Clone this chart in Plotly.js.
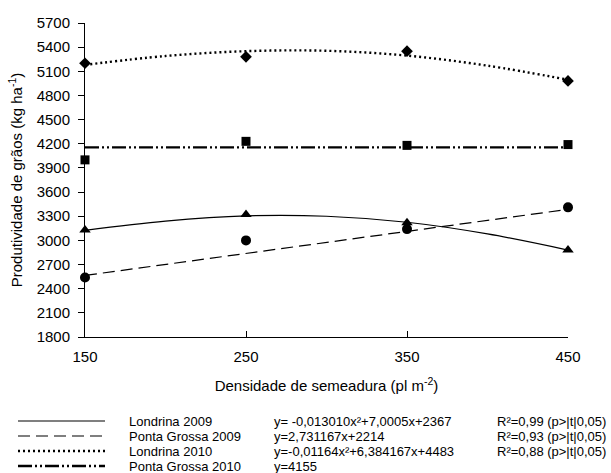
<!DOCTYPE html>
<html><head><meta charset="utf-8">
<script src="https://cdn.plot.ly/plotly-3.0.1.min.js"></script>
<style>html,body{margin:0;padding:0;background:#fff}#c{width:611px;height:473px}</style>
</head><body><div id="c"></div>
<script>
// observed densities
const densities = [150, 250, 350, 450];
// observed yields (kg/ha)
const londrina2009 = [3130, 3320, 3220, 2880];
const pontaGrossa2009 = [2540, 3000, 3140, 3410];
const londrina2010 = [5200, 5280, 5350, 4980];
const pontaGrossa2010 = [4000, 4230, 4180, 4190];
// fitted curves
const fitX = [150, 200, 250, 300, 350, 400, 450];
const fitLondrina2009 = [3125, 3240, 3305, 3300, 3225, 3080, 2880];
const fitLondrina2010 = [5180, 5290, 5350, 5355, 5295, 5170, 4995];
const fitLineX = [150, 450];
const fitPontaGrossa2009 = [2565, 3385];
const fitPontaGrossa2010 = [4155, 4155];
// legend texts
const seriesNames = ["Londrina 2009", "Ponta Grossa 2009", "Londrina 2010", "Ponta Grossa 2010"];
const equations = ["y= -0,013010x²+7,0005x+2367", "y=2,731167x+2214", "y=-0,01164x²+6,384167x+4483", "y=4155"];
const r2Texts = ["R²=0,99 (p>|t|0,05)", "R²=0,93 (p>|t|0,05)", "R²=0,88 (p>|t|0,05)", ""];
const xTicks = [150, 250, 350, 450];
const yTicks = [1800, 2100, 2400, 2700, 3000, 3300, 3600, 3900, 4200, 4500, 4800, 5100, 5400, 5700];

const W = 611, H = 473;
const L = 85, R = 568, T = 23, B = 337;
const px2x = p => (p - L) / (R - L);
const px2y = p => (B - p) / (B - T);

const dashes = ["solid", "12px,6px", "2px,3px", "14px,3px,2px,3px,2px,3px"];
const widths = [1.2, 1.2, 2.4, 2.4];
const symbols = ["triangle-up", "circle", "diamond", "square"];
const FONT = "Liberation Sans, Arial, sans-serif";

const traces = [
  {x: fitX, y: fitLondrina2009, mode: "lines", line: {color: "#000", width: widths[0], dash: dashes[0], shape: "spline"}},
  {x: fitLineX, y: fitPontaGrossa2009, mode: "lines", line: {color: "#000", width: widths[1], dash: dashes[1]}},
  {x: fitX, y: fitLondrina2010, mode: "lines", line: {color: "#000", width: widths[2], dash: dashes[2], shape: "spline"}},
  {x: fitLineX, y: fitPontaGrossa2010, mode: "lines", line: {color: "#000", width: widths[3], dash: dashes[3]}},
  {x: densities, y: londrina2009, mode: "markers", marker: {symbol: symbols[0], size: 10, color: "#000"}},
  {x: densities, y: pontaGrossa2009, mode: "markers", marker: {symbol: symbols[1], size: 10, color: "#000"}},
  {x: densities, y: londrina2010, mode: "markers", marker: {symbol: symbols[2], size: 9, color: "#000"}},
  {x: densities, y: pontaGrossa2010, mode: "markers", marker: {symbol: symbols[3], size: 9, color: "#000"}}
].map(t => Object.assign(t, {cliponaxis: false, showlegend: false, hoverinfo: "skip"}));

const rowsY = [421, 436, 451, 466];
const shapes = [], annotations = [];
rowsY.forEach((py, i) => {
  shapes.push({type: "line", xref: "paper", yref: "paper", x0: px2x(18), x1: px2x(105), y0: px2y(py), y1: px2y(py),
    line: {color: "#000", width: widths[i], dash: dashes[i]}});
  const f = {family: FONT, size: 13, color: "#000"};
  const common = {xref: "paper", yref: "paper", y: px2y(py), showarrow: false, yanchor: "middle", font: f, borderpad: 0};
  annotations.push(Object.assign({x: px2x(128), xanchor: "left", text: seriesNames[i]}, common));
  annotations.push(Object.assign({x: px2x(273), xanchor: "left", text: equations[i]}, common));
  if (r2Texts[i]) annotations.push(Object.assign({x: px2x(607), xanchor: "right", text: r2Texts[i]}, common));
});

const layout = {
  width: W, height: H,
  margin: {l: L, r: W - R, t: T, b: H - B},
  paper_bgcolor: "#fff", plot_bgcolor: "#fff",
  font: {family: FONT, size: 15, color: "#000"},
  xaxis: {range: [150, 450], tickvals: xTicks, ticks: "inside", ticklen: 6, tickcolor: "#000", showline: true, linecolor: "#000", linewidth: 1,
    showgrid: false, zeroline: false, tickfont: {size: 15}, ticklabelstandoff: 6,
    title: {text: "Densidade de semeadura (pl m<sup>-2</sup>)", font: {size: 15}, standoff: 16}},
  yaxis: {range: [1800, 5700], tickvals: yTicks, ticks: "outside", ticklen: 6, tickcolor: "#000", showline: true, linecolor: "#000", linewidth: 1,
    showgrid: false, zeroline: false, tickfont: {size: 15}, ticklabelstandoff: 5,
    title: {text: "Produtividade de grãos (kg ha<sup>-1</sup>)", font: {size: 15}, standoff: 10}},
  shapes: shapes, annotations: annotations
};
Plotly.newPlot("c", traces, layout, {displayModeBar: false, staticPlot: true});
</script></body></html>
